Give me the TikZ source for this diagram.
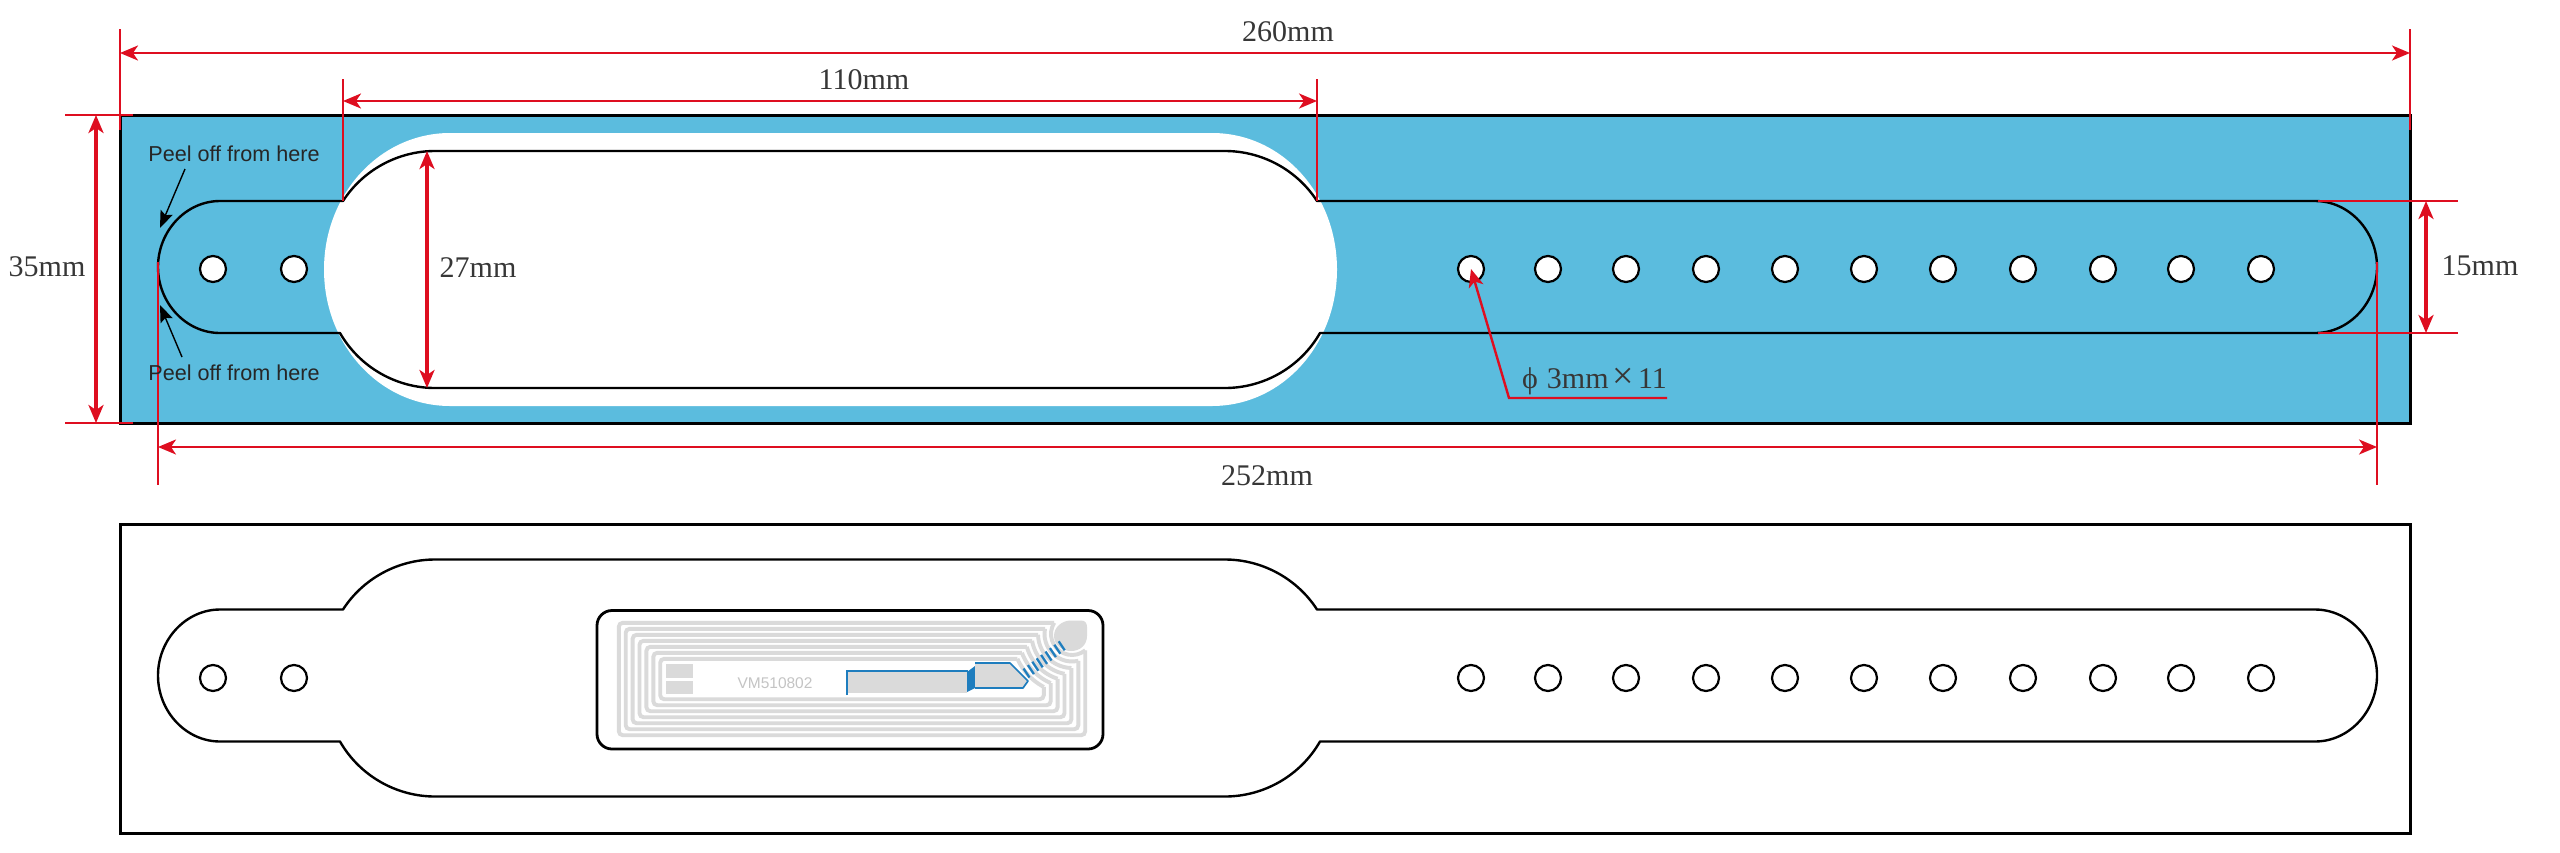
\documentclass[tikz,border=0pt]{standalone}
\usepackage{fontspec}
\setmainfont{Liberation Serif}
\newfontfamily\peelfont{Liberation Sans}
\usetikzlibrary{arrows.meta}
\definecolor{bandblue}{RGB}{91,188,222}
\definecolor{dimred}{RGB}{222,14,32}
\definecolor{dimtext}{RGB}{55,55,55}
\definecolor{coilgray}{RGB}{218,218,218}
\definecolor{chipblue}{RGB}{30,125,190}
\tikzset{
  x=1pt,y=-1pt,
  panel/.style={draw=black,line width=3pt},
  strapline/.style={draw=black,line width=2.4pt,line join=round},
  hole/.style={circle,draw=black,fill=white,line width=2.2pt,minimum size=26pt,inner sep=0pt,outer sep=0pt},
  extline/.style={draw=dimred,line width=2.4pt},
  dimline/.style={draw=dimred,line width=2.4pt,{Stealth[length=18pt,width=15pt,inset=5pt]}-{Stealth[length=18pt,width=15pt,inset=5pt]}},
  dimthick/.style={draw=dimred,line width=3.2pt,{Stealth[length=18pt,width=15pt,inset=5pt]}-{Stealth[length=18pt,width=15pt,inset=5pt]}},
  dimlabel/.style={text=dimtext,font=\fontsize{30}{30}\selectfont,inner sep=0pt},
  peel/.style={text=black!85,font=\peelfont\fontsize{21.6}{24}\selectfont,inner sep=0pt},
  peelarrow/.style={draw=black,line width=1.4pt,-{Stealth[length=17pt,width=13pt,inset=3pt]}},
  coil/.style={draw=coilgray,line width=3.9pt},
}
\newcommand{\strappath}[1]{%
  (343,#1-66) .. controls (363,#1-97) and (398,#1-116) .. (435,#1-116)
  -- (1225,#1-116) .. controls (1262,#1-116) and (1297,#1-97) .. (1317,#1-66)
  -- (2315,#1-66) .. controls (2349,#1-66) and (2377,#1-36) .. (2377,#1)
  .. controls (2377,#1+36) and (2349,#1+66) .. (2315,#1+66)
  -- (1320,#1+66) .. controls (1300.5,#1+100) and (1264,#1+121) .. (1225,#1+121)
  -- (435,#1+121) .. controls (396,#1+121) and (359.5,#1+100) .. (340,#1+66)
  -- (220,#1+66) .. controls (186,#1+66) and (158,#1+36) .. (158,#1)
  .. controls (158,#1-36) and (186,#1-66) .. (220,#1-66) -- cycle}
\begin{document}
\begin{tikzpicture}
\useasboundingbox (0,0) rectangle (2560,852);
\fill[white] (0,0) rectangle (2560,852);
% top panel
\fill[bandblue] (120,115) rectangle (2410,423);
\draw[panel] (120,115) rectangle (2410,423);
\fill[white] (450,133) -- (1212,133)
  .. controls (1282,133) and (1337,194) .. (1337,269.5)
  .. controls (1337,345) and (1282,406) .. (1212,406)
  -- (450,406)
  .. controls (380,406) and (324,345) .. (324,269.5)
  .. controls (324,194) and (380,133) .. (450,133) -- cycle;
\draw[strapline] \strappath{267};
\foreach \n/\hx in {a/213,b/294,c/1471,d/1548,e/1626,f/1706,g/1785,h/1864,i/1943,j/2023,k/2103,l/2181,m/2261}{
  \node[hole] (top\n) at (\hx,269) {};
  \node[hole] (bot\n) at (\hx,678) {};
}
% bottom panel
\draw[panel] (120,524) rectangle (2410,833);
\draw[strapline] \strappath{675.5};
% tag
\foreach \i in {0,...,6}{
  \pgfmathsetmacro{\xL}{618.8+6.9*\i}
  \pgfmathsetmacro{\xR}{1085.2-6.9*\i}
  \pgfmathsetmacro{\yT}{622.8+6*\i}
  \pgfmathsetmacro{\yB}{735.2-6*\i}
  \pgfmathsetmacro{\Rr}{21+6.5*\i}
  \pgfmathsetmacro{\xA}{1072-sqrt(\Rr*\Rr-(634-\yT)*(634-\yT))}
  \pgfmathsetmacro{\yA}{634+sqrt(\Rr*\Rr-(\xR-1072)*(\xR-1072))}
  \pgfmathsetmacro{\tA}{180-asin((\yT-634)/\Rr)}
  \pgfmathsetmacro{\tB}{acos((\xR-1072)/\Rr)}
  \draw[coil,rounded corners=4pt] (\xA,\yT) -- (\xL,\yT) -- (\xL,\yB) -- (\xR,\yB) -- (\xR,\yA);
  \draw[coil] plot[domain=\tA:\tB,samples=14] ({1072+\Rr*cos(\x)},{634+\Rr*sin(\x)});
}
\draw[black,line width=2.8pt,rounded corners=15pt] (597,610.5) rectangle (1103,749);
\fill[coilgray] (666,664) rectangle (693,678);
\fill[coilgray] (666,681) rectangle (693,694);
\fill[coilgray] (847,671) rectangle (967,693);
\draw[chipblue,line width=2.6pt] (847,695) -- (847,671) -- (968,671);
\node[text=coilgray!90!black,font=\peelfont\fontsize{15.5}{16}\selectfont,inner sep=0pt] (chiplabel) at (775,683) {VM510802};
\fill[chipblue] (967,672) -- (975,666) -- (975,688) -- (967,692) -- cycle;
\fill[coilgray] (975,663) -- (1010,663) -- (1028,681) -- (1023,688) -- (975,688) -- cycle;
\draw[chipblue,line width=1.7pt,line join=round] (975,663) -- (1010,663) -- (1028,681) -- (1023,688) -- (975,688);
\fill[coilgray] (1071,620.5) -- (1081,620.5) .. controls (1085,620.5) and (1087,623) .. (1087,627) -- (1087,636)
  .. controls (1087,645) and (1080,651) .. (1071,651) .. controls (1062,651) and (1054,645) .. (1054,636)
  .. controls (1054,627) and (1062,620.5) .. (1071,620.5) -- cycle;
\foreach \i in {0,...,8}{
  \draw[chipblue,line width=2.3pt] ({1023.5+4.4*\i},{668.5-3.4*\i}) -- ({1029.5+4.4*\i},{677.5-3.4*\i});
}
% red dimensioning
\coordinate (wL) at (120,53); \coordinate (wR) at (2410,53);
\coordinate (wLa) at (120,29); \coordinate (wLb) at (120,130);
\coordinate (wRa) at (2410,29); \coordinate (wRb) at (2410,130);
\draw[extline] (wLa) -- (wLb); \draw[extline] (wRa) -- (wRb);
\draw[dimline] (wL) -- (wR);
\node[dimlabel] (l260) at (1288,32) {260mm};
\coordinate (nL) at (343,101); \coordinate (nR) at (1317,101);
\coordinate (nLa) at (343,79); \coordinate (nLb) at (343,201);
\coordinate (nRa) at (1317,79); \coordinate (nRb) at (1317,201);
\draw[extline] (nLa) -- (nLb); \draw[extline] (nRa) -- (nRb);
\draw[dimline] (nL) -- (nR);
\node[dimlabel] (l110) at (864,80) {110mm};
\coordinate (hT) at (96,115); \coordinate (hB) at (96,423);
\coordinate (hTa) at (65,115); \coordinate (hTb) at (133,115);
\coordinate (hBa) at (65,423); \coordinate (hBb) at (133,423);
\draw[extline] (hTa) -- (hTb); \draw[extline] (hBa) -- (hBb);
\draw[dimthick] (hT) -- (hB);
\node[dimlabel] (l35) at (47,267) {35mm};
\coordinate (iT) at (427,151); \coordinate (iB) at (427,388);
\draw[dimthick] (iT) -- (iB);
\node[dimlabel] (l27) at (478,268) {27mm};
\coordinate (sT) at (2426,201); \coordinate (sB) at (2426,333);
\coordinate (sTa) at (2318,201); \coordinate (sTb) at (2458,201);
\coordinate (sBa) at (2318,333); \coordinate (sBb) at (2458,333);
\draw[extline] (sTa) -- (sTb); \draw[extline] (sBa) -- (sBb);
\draw[dimthick] (sT) -- (sB);
\node[dimlabel] (l15) at (2480,266) {15mm};
\coordinate (oL) at (158,447); \coordinate (oR) at (2377,447);
\coordinate (oLa) at (158,262); \coordinate (oLb) at (158,485);
\coordinate (oRa) at (2377,262); \coordinate (oRb) at (2377,485);
\draw[extline] (oLa) -- (oLb); \draw[extline] (oRa) -- (oRb);
\draw[dimline] (oL) -- (oR);
\node[dimlabel] (l252) at (1267,476) {252mm};
% hole callout
\coordinate (cA) at (1667,398); \coordinate (cB) at (1509,398); \coordinate (cH) at (1471,269);
\draw[draw=dimred,line width=2.4pt,-{Stealth[length=18pt,width=15pt,inset=5pt]}] (cA) -- (cB) -- (cH);
\node[dimlabel,anchor=base west] (lphi) at (1522,388) {ϕ\hspace{9pt}3mm\hspace{4pt}{\fontsize{38}{38}\selectfont ×}\hspace{4pt}11};
% peel labels
\node[peel] (p1) at (234,154) {Peel off from here};
\node[peel] (p2) at (234,373) {Peel off from here};
\coordinate (pa1) at (185,169); \coordinate (pb1) at (160,228);
\coordinate (pa2) at (182,357); \coordinate (pb2) at (160,305);
\draw[peelarrow] (pa1) -- (pb1);
\draw[peelarrow] (pa2) -- (pb2);
\end{tikzpicture}
\end{document}
